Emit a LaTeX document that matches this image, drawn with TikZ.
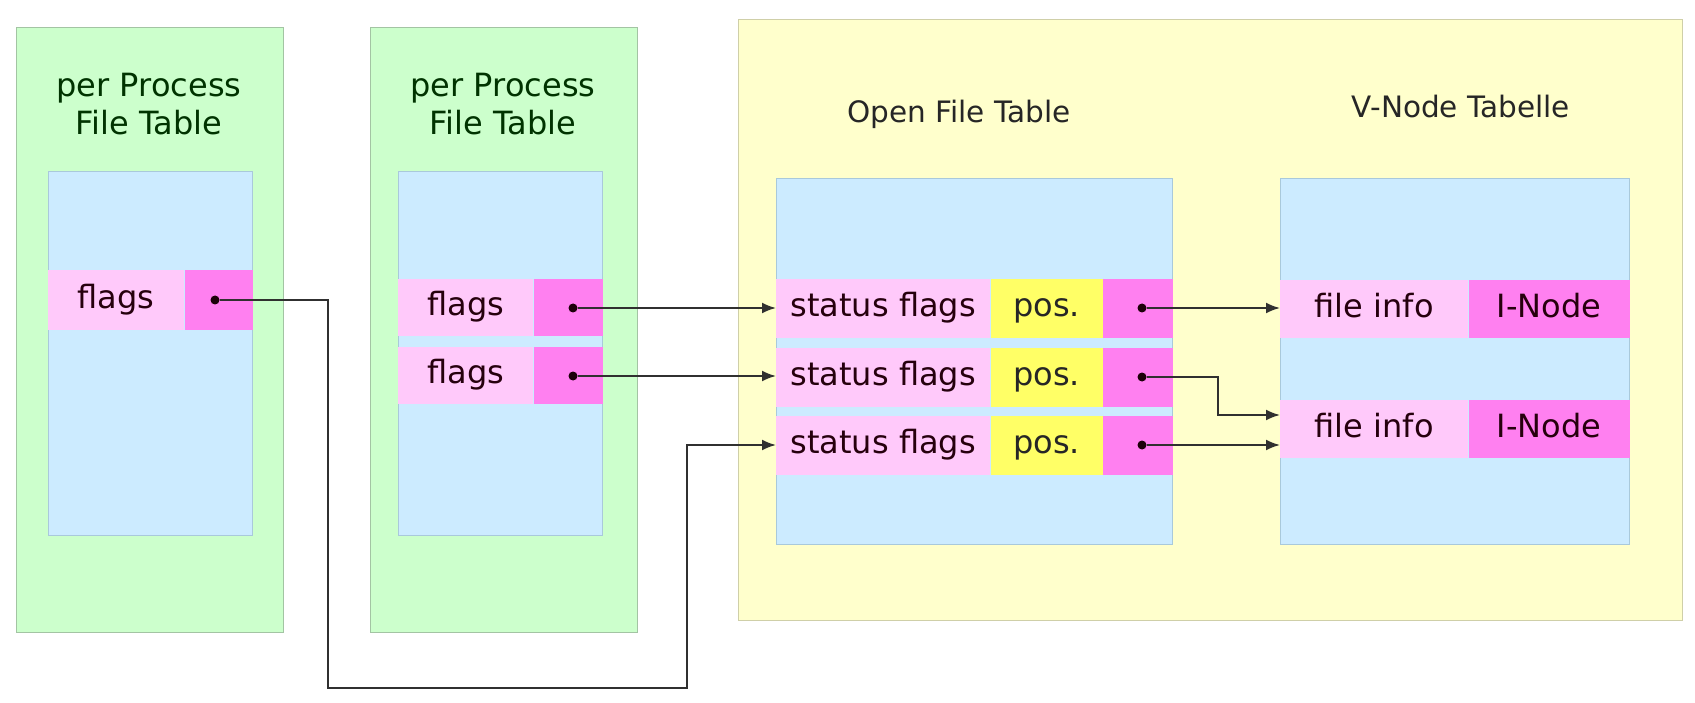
\documentclass[tikz,border=0pt]{standalone}
\usepackage{fontspec}
\usetikzlibrary{positioning,arrows.meta}
\setmainfont{DejaVu Sans}
\definecolor{procgreen}{HTML}{CCFFCC}
\definecolor{procline}{HTML}{A3C4A3}
\definecolor{sysyellow}{HTML}{FFFFCC}
\definecolor{sysline}{HTML}{CFCFA8}
\definecolor{tblblue}{HTML}{CCEBFF}
\definecolor{tblline}{HTML}{A9C9DB}
\definecolor{lpink}{HTML}{FFC9FA}
\definecolor{mpink}{HTML}{FF80F0}
\definecolor{posyellow}{HTML}{FFFF66}
\definecolor{linkgray}{HTML}{303030}

\begin{document}
\begin{tikzpicture}[x=1pt,y=-1pt,
  big/.style={font=\fontsize{32}{38}\selectfont},
  frame/.style={rectangle,inner sep=0pt,anchor=north west,line width=1.2pt},
  procbox/.style={frame,fill=procgreen,draw=procline},
  sysbox/.style={frame,fill=sysyellow,draw=sysline},
  tblbox/.style={frame,fill=tblblue,draw=tblline},
  cell/.style={rectangle,inner sep=0pt,anchor=north west,big,text=black!80!purple,
    text height=24pt,text depth=8pt},
  flagcell/.style={cell,fill=lpink},
  ptrcell/.style={cell,fill=mpink},
  poscell/.style={cell,fill=posyellow,text=black!85},
  dot/.style={circle,fill=black!85!purple,inner sep=0pt,minimum size=9pt},
  link/.style={->,>={Latex[length=14pt,width=11pt]},draw=linkgray,line width=2pt},
  ptitle/.style={big,align=center,inner sep=0pt,text=green!20!black},
  stitle/.style={font=\fontsize{29.5}{36}\selectfont,anchor=base,inner sep=0pt,text=black!85}]
\useasboundingbox (0,0) rectangle (1695,703);

% containers
\node[sysbox,minimum width=944pt,minimum height=601pt] (sys) at (738,19) {};
\node[procbox,minimum width=267pt,minimum height=605pt] (proc1) at (16,27) {};
\node[procbox,minimum width=267pt,minimum height=605pt] (proc2) at (370,27) {};
\node[ptitle] (pt1) at (149,104) {per Process\\File Table};
\node[ptitle] (pt2) at (503,104) {per Process\\File Table};
\node[stitle] (ot) at (959,123) {Open File Table};
\node[stitle] (vt) at (1461,118) {V-Node Tabelle};

% tables
\node[tblbox,minimum width=204pt,minimum height=364pt] (t1) at (48,171) {};
\node[tblbox,minimum width=204pt,minimum height=364pt] (t2) at (398,171) {};
\node[tblbox,minimum width=396pt,minimum height=366pt] (t3) at (776,178) {};
\node[tblbox,minimum width=349pt,minimum height=366pt] (t4) at (1280,178) {};

% entries
\node[flagcell,minimum width=136pt,minimum height=60pt] (fl1) at (48,270) {flags};
\node[ptrcell,minimum width=68pt,minimum height=60pt,right=0pt of fl1] (pp1) {};
\node[flagcell,minimum width=135pt,minimum height=57pt] (fl2) at (398,279) {flags};
\node[ptrcell,minimum width=69pt,minimum height=57pt,right=0pt of fl2] (pp2) {};
\node[flagcell,minimum width=135pt,minimum height=57pt] (fl3) at (398,347) {flags};
\node[ptrcell,minimum width=69pt,minimum height=57pt,right=0pt of fl3] (pp3) {};

\node[flagcell,minimum width=214pt,minimum height=59pt] (st1) at (776,279) {status flags};
\node[poscell,minimum width=112pt,minimum height=59pt,right=0pt of st1] (po1) {pos.};
\node[ptrcell,minimum width=70pt,minimum height=59pt,right=0pt of po1] (op1) {};
\node[flagcell,minimum width=214pt,minimum height=59pt] (st2) at (776,348) {status flags};
\node[poscell,minimum width=112pt,minimum height=59pt,right=0pt of st2] (po2) {pos.};
\node[ptrcell,minimum width=70pt,minimum height=59pt,right=0pt of po2] (op2) {};
\node[flagcell,minimum width=214pt,minimum height=59pt] (st3) at (776,416) {status flags};
\node[poscell,minimum width=112pt,minimum height=59pt,right=0pt of st3] (po3) {pos.};
\node[ptrcell,minimum width=70pt,minimum height=59pt,right=0pt of po3] (op3) {};

\node[flagcell,minimum width=188pt,minimum height=58pt] (fi1) at (1280,280) {file info};
\node[ptrcell,minimum width=161pt,minimum height=58pt,right=0pt of fi1] (in1) {I-Node};
\node[flagcell,minimum width=188pt,minimum height=58pt] (fi2) at (1280,400) {file info};
\node[ptrcell,minimum width=161pt,minimum height=58pt,right=0pt of fi2] (in2) {I-Node};

% pointers
\node[dot] (d1) at (215,300) {};
\node[dot] (d2) at (573,308) {};
\node[dot] (d3) at (573,376) {};
\node[dot] (d4) at (1142,308) {};
\node[dot] (d5) at (1142,377) {};
\node[dot] (d6) at (1142,445) {};
\coordinate (bendA) at (328,688);
\coordinate (bendB) at (687,688);
\coordinate (bendC) at (1218,415);

\draw[link] (d1) -| (bendA) -- (bendB) |- (d6 -| st3.west);
\draw[link] (d2) -- (d2 -| st1.west);
\draw[link] (d3) -- (d3 -| st2.west);
\draw[link] (d4) -- (d4 -| fi1.west);
\draw[link] (d5) -| (bendC) -- (bendC -| fi2.west);
\draw[link] (d6) -- (d6 -| fi2.west);
\end{tikzpicture}
\end{document}
